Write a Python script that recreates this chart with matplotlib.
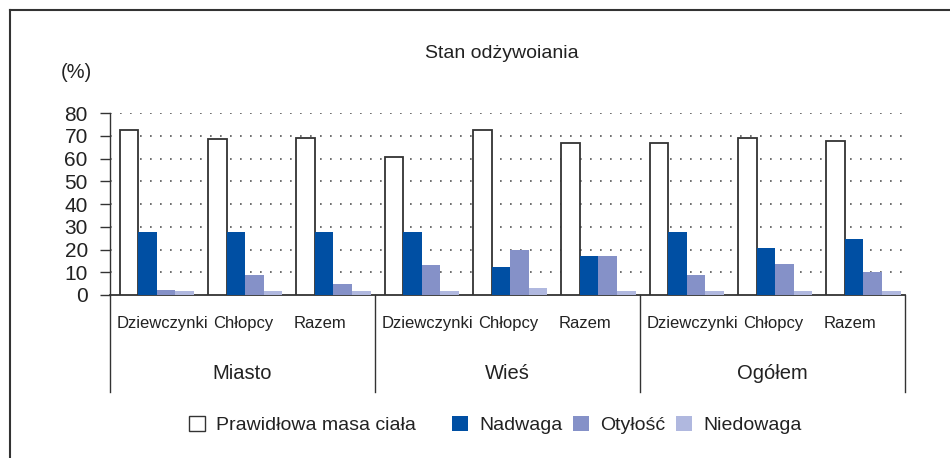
import numpy as np
import matplotlib
matplotlib.use("Agg")
import matplotlib.pyplot as plt
import matplotlib.transforms as mtransforms
from matplotlib.patches import Patch
from matplotlib.lines import Line2D

plt.rcParams["font.family"] = ["Liberation Sans", "DejaVu Sans"]

# data
groups = ["Miasto", "Wieś", "Ogółem"]
subgroups = ["Dziewczynki", "Chłopcy", "Razem"]
series_names = ["Prawidłowa masa ciała", "Nadwaga", "Otyłość", "Niedowaga"]
prawidlowa = [72.7, 68.5, 69.2, 60.8, 72.7, 66.9, 66.9, 69.2, 67.9]
nadwaga = [27.5, 27.5, 27.5, 27.5, 12.2, 17.0, 27.5, 20.5, 24.4]
otylosc = [2.3, 8.7, 5.0, 13.4, 19.6, 17.0, 9.0, 13.8, 10.3]
niedowaga = [1.9, 1.9, 1.9, 1.9, 3.2, 1.9, 1.9, 1.9, 1.9]
yticks = [0, 10, 20, 30, 40, 50, 60, 70, 80]

colors = ["white", "#004fa3", "#8591c8", "#b0b8df"]
edge = "#333333"
txt = "#222222"

fig = plt.figure(figsize=(9.5, 4.58), dpi=100)
W, H = 950, 458
ax = fig.add_axes([110 / W, 1 - 295 / H, 795 / W, 182 / H])

x = np.arange(len(prawidlowa))
w = 0.21
shift = 0.03
for k, vals in enumerate([prawidlowa, nadwaga, otylosc, niedowaga]):
    pos = x + (k - 1.5) * w + shift
    if k == 0:
        ax.bar(pos, vals, width=w, color=colors[k], edgecolor=edge,
               linewidth=1.3, zorder=3)
    else:
        ax.bar(pos, vals, width=w, color=colors[k], linewidth=0, zorder=3)

ax.set_xlim(-0.5, len(x) - 0.5)
ax.set_ylim(0, 80)
ax.set_yticks(yticks)
ax.set_xticks([])
ax.tick_params(axis="y", length=7, width=1.0, color=edge, labelsize=15,
               pad=9, direction="out", labelcolor=txt)
for v in yticks[1:]:
    ax.axhline(v, color="#555555", linewidth=1.2, dashes=(1, 5), zorder=1)

for s in ["top", "right"]:
    ax.spines[s].set_visible(False)
ax.spines["left"].set_color(edge)
ax.spines["bottom"].set_color(edge)
ax.spines["left"].set_linewidth(1.0)
ax.spines["bottom"].set_linewidth(1.3)

# category axis: two levels of labels and separators
trans = mtransforms.blended_transform_factory(ax.transData, ax.transAxes)
n_sub = len(subgroups)
label_nudge = [0.06, -0.02, -0.15]
for g in range(len(groups) + 1):
    xs = g * n_sub - 0.5
    ax.add_line(Line2D([xs, xs], [0, -0.531], transform=trans, color=edge,
                       linewidth=1.0, clip_on=False))
for i in x:
    ax.text(i + shift + label_nudge[i % n_sub], -0.154, subgroups[i % n_sub],
            transform=trans, ha="center", va="center", fontsize=12, color=txt)
for g, name in enumerate(groups):
    ax.text(g * n_sub + 1, -0.429, name, transform=trans, ha="center",
            va="center", fontsize=14.5, color=txt)

fig.text(501.5 / W, 1 - 53 / H, "Stan odżywoiania", ha="center", va="center",
         fontsize=14, color=txt)
fig.text(76 / W, 1 - 72 / H, "(%)", ha="center", va="center", fontsize=14.5,
         color=txt)

# legend entries placed one by one, as in the reference
handles = [Patch(facecolor=colors[0], edgecolor=edge, linewidth=1.0)]
handles += [Patch(facecolor=c, linewidth=0) for c in colors[1:]]
legend_left = [189, 452, 573, 676]
for h, name, lx in zip(handles, series_names, legend_left):
    leg = fig.legend([h], [name], loc="center left",
                     bbox_to_anchor=(lx / W, 1 - 425 / H), frameon=False,
                     fontsize=14, handlelength=0.8, handleheight=0.8,
                     handletextpad=0.6, borderaxespad=0, borderpad=0,
                     labelcolor=txt)

# outer frame (top and left only)
fig.add_artist(Line2D([10 / W, 1], [1 - 10 / H, 1 - 10 / H], color=edge,
                      linewidth=1.5, transform=fig.transFigure))
fig.add_artist(Line2D([10 / W, 10 / W], [0, 1 - 10 / H], color=edge,
                      linewidth=1.5, transform=fig.transFigure))

fig.savefig("out.png", dpi=100)
